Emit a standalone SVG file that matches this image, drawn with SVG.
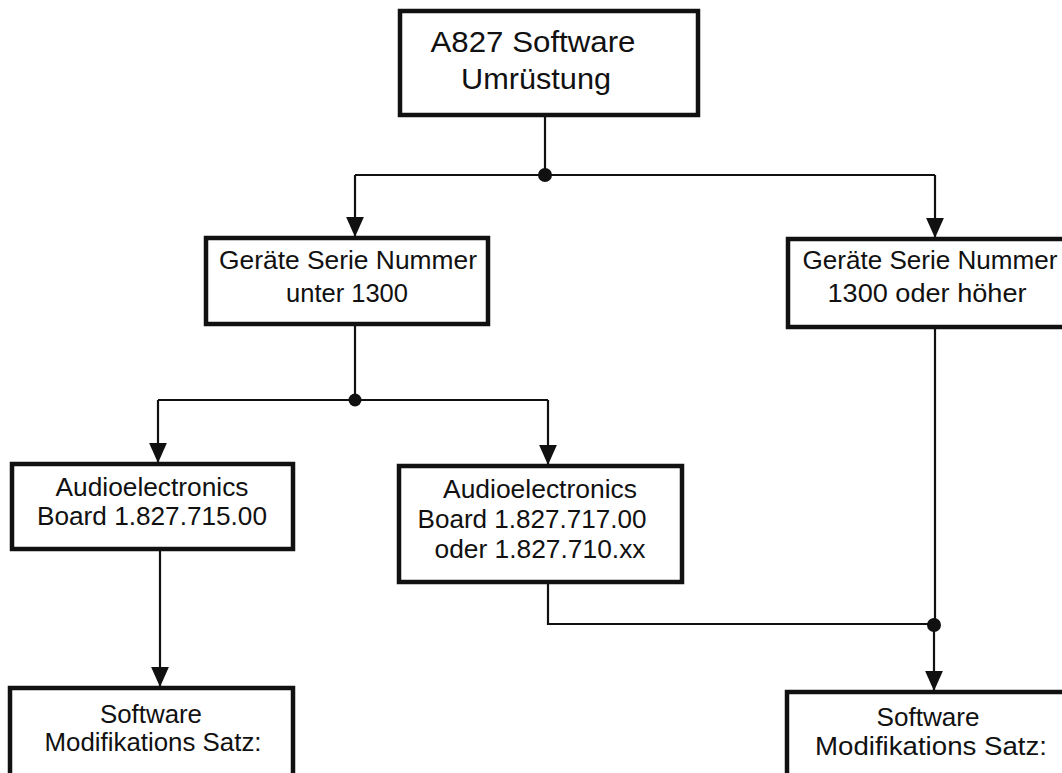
<svg xmlns="http://www.w3.org/2000/svg" width="1062" height="773" viewBox="0 0 1062 773">
<style>
.box{fill:#fff;stroke:#111;stroke-width:4.5}
.t{font-family:"Liberation Sans",Arial,sans-serif;font-size:25.5px;fill:#111;text-anchor:middle}
.tt{font-family:"Liberation Sans",Arial,sans-serif;font-size:30px;fill:#111;text-anchor:middle}
.c{fill:none;stroke:#111;stroke-width:2.2}
.dot{fill:#111}
</style>
<defs>
<marker id="ah" markerUnits="userSpaceOnUse" markerWidth="20" markerHeight="18" refX="18" refY="8" orient="auto" viewBox="0 0 18 16">
<path d="M0,0 L18,8 L0,16 Z" fill="#111"/>
</marker>
</defs>
<rect width="1062" height="773" fill="#fff"/>
<g id="connectors">
<path class="c" d="M545,115 V175"/>
<path class="c" d="M355,175 H935"/>
<path class="c" d="M355,175 V237" marker-end="url(#ah)"/>
<path class="c" d="M935,175 V238" marker-end="url(#ah)"/>
<path class="c" d="M355,324 V400"/>
<path class="c" d="M158,400 H548"/>
<path class="c" d="M158,400 V463" marker-end="url(#ah)"/>
<path class="c" d="M548,400 V465" marker-end="url(#ah)"/>
<path class="c" d="M160,549 V687" marker-end="url(#ah)"/>
<path class="c" d="M548,582 V624 H934"/>
<path class="c" d="M935,327 V624"/>
<path class="c" d="M934,624 V691" marker-end="url(#ah)"/>
<circle class="dot" cx="545" cy="175" r="7"/>
<circle class="dot" cx="355" cy="400" r="6.5"/>
<circle class="dot" cx="934" cy="625" r="7"/>
</g>
<g id="n-top">
<rect class="box" x="400" y="11" width="298" height="104"/>
<text class="tt" x="533" y="52" textLength="205" lengthAdjust="spacingAndGlyphs">A827 Software</text>
<text class="tt" x="536" y="89" textLength="150" lengthAdjust="spacingAndGlyphs">Umrüstung</text>
</g>
<g id="n-unter">
<rect class="box" x="206" y="238" width="282" height="86"/>
<text class="t" x="348" y="269" textLength="258" lengthAdjust="spacingAndGlyphs">Geräte Serie Nummer</text>
<text class="t" x="347" y="302" textLength="122" lengthAdjust="spacingAndGlyphs">unter 1300</text>
</g>
<g id="n-hoeher">
<rect class="box" x="788" y="239" width="300" height="88"/>
<text class="t" x="930" y="269" textLength="255" lengthAdjust="spacingAndGlyphs">Geräte Serie Nummer</text>
<text class="t" x="927" y="302" textLength="199" lengthAdjust="spacingAndGlyphs">1300 oder höher</text>
</g>
<g id="n-715">
<rect class="box" x="12" y="464" width="281" height="85"/>
<text class="t" x="152" y="496" textLength="193" lengthAdjust="spacingAndGlyphs">Audioelectronics</text>
<text class="t" x="152" y="525" textLength="230" lengthAdjust="spacingAndGlyphs">Board 1.827.715.00</text>
</g>
<g id="n-717">
<rect class="box" x="399" y="466" width="283" height="116"/>
<text class="t" x="540" y="498" textLength="194" lengthAdjust="spacingAndGlyphs">Audioelectronics</text>
<text class="t" x="532" y="528" textLength="229" lengthAdjust="spacingAndGlyphs">Board 1.827.717.00</text>
<text class="t" x="540" y="558" textLength="211" lengthAdjust="spacingAndGlyphs">oder 1.827.710.xx</text>
</g>
<g id="n-satz-left">
<rect class="box" x="10" y="688" width="283" height="150"/>
<text class="t" x="151" y="723" textLength="102" lengthAdjust="spacingAndGlyphs">Software</text>
<text class="t" x="153" y="751" textLength="217" lengthAdjust="spacingAndGlyphs">Modifikations Satz:</text>
</g>
<g id="n-satz-right">
<rect class="box" x="787" y="692" width="300" height="150"/>
<text class="t" x="928" y="726" textLength="103" lengthAdjust="spacingAndGlyphs">Software</text>
<text class="t" x="931" y="755" textLength="232" lengthAdjust="spacingAndGlyphs">Modifikations Satz:</text>
</g>
</svg>
